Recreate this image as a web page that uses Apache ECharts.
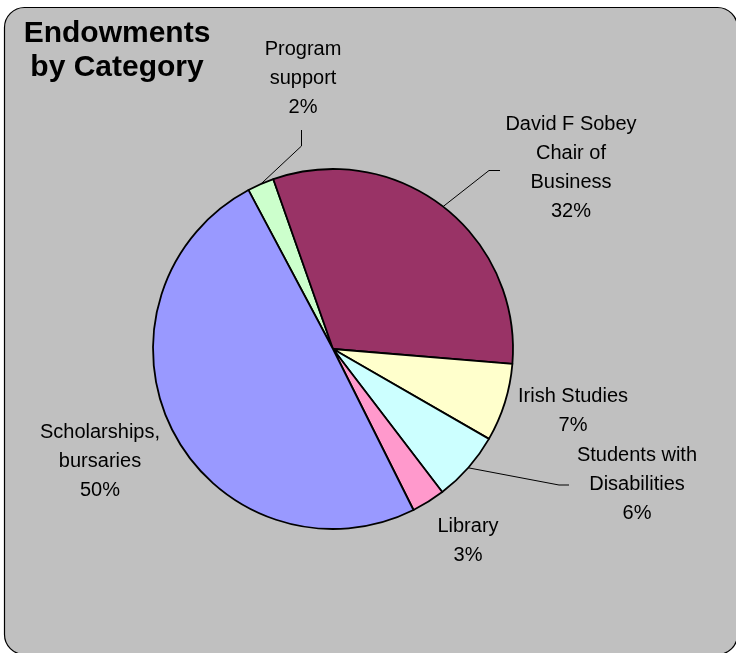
<!DOCTYPE html>
<html>
<head>
<meta charset="utf-8">
<script src="https://cdn.jsdelivr.net/npm/echarts@6/dist/echarts.min.js"></script>
<style>
  html, body { margin: 0; padding: 0; background: #fff; }
  #chart { width: 736px; height: 653px; }
</style>
</head>
<body>
<div id="chart"></div>
<script>
// data (share of endowments, %)
const categories = ['Program support', 'David F Sobey Chair of Business', 'Irish Studies',
  'Students with Disabilities', 'Library', 'Scholarships, bursaries']
const values = [2.4, 31.7, 7.0, 6.3, 3.0, 49.6]

// label look (line breaks like the original, colours, where labels sit)
const wrapped = ['Program\nsupport', 'David F Sobey\nChair of\nBusiness', 'Irish Studies',
  'Students with\nDisabilities', 'Library', 'Scholarships,\nbursaries']
const colors = ['#CCFFCC', '#993366', '#FFFFCC', '#CCFFFF', '#FF99CC', '#9999FF']
const labelPos = [[303, 78], [571, 168], [573, 411], [637, 484], [468, 541], [100, 461]]
// bend points of leader lines (null = no line)
const leaderBends = [
  [[301.5, 146], [301.5, 130]],
  [[489, 170.5], [500, 170.5]],
  null,
  [[559, 485], [569, 485]],
  null,
  null
]

let myChart = echarts.init(document.getElementById('chart'))

myChart.setOption({
  backgroundColor: '#fff',
  animation: false,
  graphic: [
    {
      type: 'rect',
      z: -10,
      silent: true,
      shape: { x: 4.5, y: 7.5, width: 733, height: 647, r: 20 },
      style: { fill: '#C0C0C0', stroke: '#000', lineWidth: 1.2 }
    },
    {
      type: 'text',
      x: 117,
      y: 17,
      silent: true,
      style: {
        text: 'Endowments\nby Category',
        align: 'center',
        verticalAlign: 'top',
        fontFamily: 'Liberation Sans',
        fontWeight: 'bold',
        fontSize: 30,
        lineHeight: 34,
        fill: '#000'
      }
    }
  ],
  series: [
    {
      type: 'pie',
      center: [333, 349],
      radius: 180,
      startAngle: 118,
      clockwise: true,
      avoidLabelOverlap: false,
      emphasis: { disabled: true },
      itemStyle: { borderColor: '#000', borderWidth: 1.8 },
      label: {
        position: 'outside',
        color: '#000',
        fontFamily: 'Liberation Sans',
        fontSize: 20,
        lineHeight: 29,
        align: 'center',
        formatter: (p) => wrapped[p.dataIndex] + '\n' + Math.round(p.percent) + '%'
      },
      labelLine: {
        show: true,
        lineStyle: { color: '#000', width: 1 }
      },
      labelLayout: function (params) {
        const i = params.dataIndex
        const out = {
          x: labelPos[i][0],
          y: labelPos[i][1],
          align: 'center',
          verticalAlign: 'middle'
        }
        if (leaderBends[i] && params.labelLinePoints) {
          out.labelLinePoints = [params.labelLinePoints[0]].concat(leaderBends[i])
        }
        return out
      },
      data: categories.map((name, i) => ({
        name: name,
        value: values[i],
        itemStyle: { color: colors[i] },
        labelLine: { show: leaderBends[i] !== null }
      }))
    }
  ]
})
</script>
</body>
</html>
